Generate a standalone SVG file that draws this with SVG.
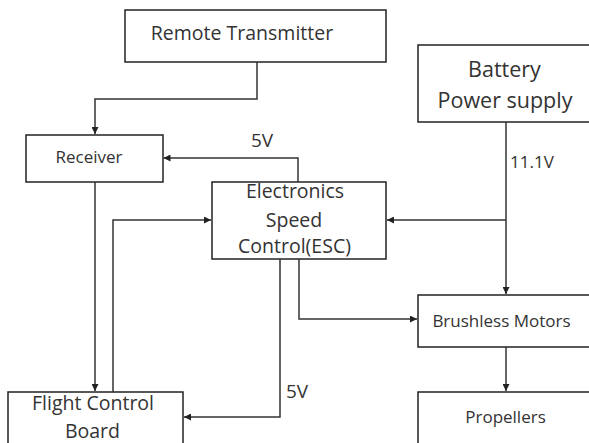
<svg xmlns="http://www.w3.org/2000/svg" width="589" height="443" viewBox="0 0 589 443">
<defs>
<marker id="arr" viewBox="0 0 10 10" refX="10" refY="5" markerWidth="7" markerHeight="7" markerUnits="userSpaceOnUse" orient="auto"><path d="M0,0 L10,5 L0,10 z" fill="#222"/></marker>
</defs>
<style>
.box{fill:#fff;stroke:#222;stroke-width:1.5}
.t{font-family:"Open Sans","Liberation Sans",sans-serif;fill:#333;text-anchor:middle}
.c{fill:none;stroke:#333;stroke-width:1.5;marker-end:url(#arr)}
.lbl{font-family:"Open Sans","Liberation Sans",sans-serif;fill:#333}
</style>
<rect width="589" height="443" fill="#fff"/>
<g id="remote-transmitter">
<rect class="box" x="125" y="10" width="261" height="52"/>
<text class="t" x="242" y="40" font-size="19.5">Remote Transmitter</text>
</g>
<g id="receiver">
<rect class="box" x="26" y="135" width="137" height="47"/>
<text class="t" x="89" y="163" font-size="17">Receiver</text>
</g>
<g id="esc">
<rect class="box" x="212" y="182" width="174" height="77"/>
<text class="t" x="295" y="198" font-size="19.5">Electronics</text>
<text class="t" x="294" y="227" font-size="19.5">Speed</text>
<text class="t" x="294.5" y="253" font-size="19.5">Control(ESC)</text>
</g>
<g id="battery">
<rect class="box" x="418" y="45" width="172" height="77"/>
<text class="t" x="504.5" y="77" font-size="21.5">Battery</text>
<text class="t" x="505" y="108" font-size="21.5">Power supply</text>
</g>
<g id="brushless-motors">
<rect class="box" x="418" y="295" width="172" height="52"/>
<text class="t" x="501.5" y="327" font-size="17">Brushless Motors</text>
</g>
<g id="propellers">
<rect class="box" x="418" y="392" width="172" height="60"/>
<text class="t" x="505.5" y="423" font-size="17">Propellers</text>
</g>
<g id="flight-control-board">
<rect class="box" x="8" y="392" width="175" height="60"/>
<text class="t" x="93" y="410" font-size="19.5">Flight Control</text>
<text class="t" x="92.5" y="438" font-size="19.5">Board</text>
</g>
<g id="connectors">
<path class="c" d="M257,62 V99 H95 V134"/>
<path class="c" d="M298,182 V158 H163.5"/>
<path class="c" d="M506,122 V294"/>
<path class="c" d="M506,220 H387"/>
<path class="c" d="M95,182 V391"/>
<path class="c" d="M113,392 V220 H211"/>
<path class="c" d="M299,259 V319 H417"/>
<path class="c" d="M280,259 V417 H184"/>
<path class="c" d="M506,347 V391"/>
<text class="lbl" x="251" y="147" font-size="19">5V</text>
<text class="lbl" x="510" y="168" font-size="17">11.1V</text>
<text class="lbl" x="286" y="398" font-size="19">5V</text>
</g>
</svg>
